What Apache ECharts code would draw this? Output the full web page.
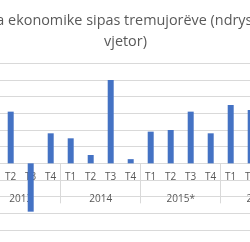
<!DOCTYPE html>
<html>
<head>
<meta charset="utf-8">
<script src="https://cdn.jsdelivr.net/npm/echarts@6/dist/echarts.min.js"></script>
<style>
  html, body { margin: 0; padding: 0; background: #fff; }
  #chart { width: 250px; height: 242px; }
</style>
</head>
<body>
<div id="chart"></div>
<script>
// tremujoret (T1..T4) per cdo vit
const quarters = ['T1', 'T2', 'T3', 'T4', 'T1', 'T2', 'T3', 'T4',
  'T1', 'T2', 'T3', 'T4', 'T1', 'T2', 'T3', 'T4']
const years = ['2013', '2014', '2015*', '2016*']
// ndryshimi vjetor, % (null = jashte kuadrit, nuk lexohet)
const growth = [null, 3.1, -2.9, 1.8, 1.5, 0.5, 5.0, 0.25,
  1.9, 2.0, 3.1, 1.8, 3.5, 3.2, null, null]
const yTicks = { min: -4, max: 6, step: 1 }

const font = 'Open Sans'
  , grey = '#595959'
  , lineGrey = '#d9d9d9'
  , H = 242
  , gridTop = 63.3
  , gridBottom = 12

// boshti i kategorive vendoset te vlera 0 (onZero nuk leviz etiketat ne v6)
let plotH = H - gridTop - gridBottom
  , zeroShift = -plotH * (0 - yTicks.min) / (yTicks.max - yTicks.min)

let chart = echarts.init(document.getElementById('chart'))
chart.setOption({
  animation: false,
  title: {
    text: 'Rritja ekonomike sipas tremujorëve (ndryshimi\nvjetor)',
    left: 120.5,
    top: 5,
    textAlign: 'center',
    textStyle: {
      fontFamily: font,
      fontSize: 14.4,
      fontWeight: 'normal',
      color: grey,
      lineHeight: 21
    }
  },
  grid: {
    left: -19.3,
    right: -50.7,
    top: gridTop,
    bottom: gridBottom,
    outerBoundsMode: 'none',
    containLabel: false
  },
  xAxis: [
    {
      type: 'category',
      data: quarters,
      position: 'bottom',
      offset: zeroShift,
      axisLine: { onZero: false, lineStyle: { color: lineGrey } },
      axisTick: { show: false },
      axisLabel: {
        interval: 0,
        margin: 9,
        showMinLabel: true,
        showMaxLabel: true,
        color: grey,
        fontFamily: font,
        fontSize: 10
      }
    },
    {
      type: 'category',
      data: years,
      position: 'bottom',
      offset: zeroShift,
      axisLine: { show: false, onZero: false },
      axisTick: {
        show: true,
        interval: 0,
        length: 40,
        lineStyle: { color: lineGrey }
      },
      axisLabel: {
        interval: 0,
        margin: 31,
        showMinLabel: true,
        showMaxLabel: true,
        color: grey,
        fontFamily: font,
        fontSize: 10
      }
    }
  ],
  yAxis: {
    type: 'value',
    min: yTicks.min,
    max: yTicks.max,
    interval: yTicks.step,
    axisLabel: { show: false },
    axisLine: { show: false },
    axisTick: { show: false },
    splitLine: { lineStyle: { color: lineGrey } }
  },
  series: [{
    type: 'bar',
    data: growth,
    barWidth: 6,
    itemStyle: { color: '#4472c4' }
  }]
})
</script>
</body>
</html>
